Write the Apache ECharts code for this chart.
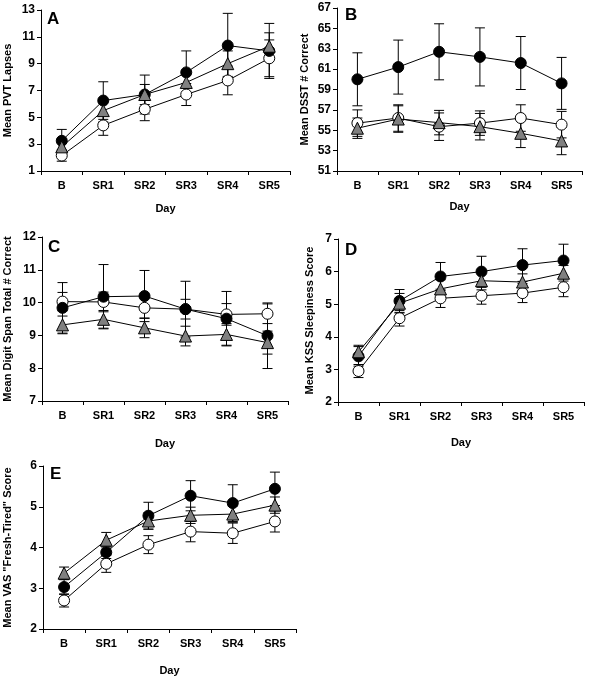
<!DOCTYPE html>
<html>
<head>
<meta charset="utf-8">
<script src="https://cdn.jsdelivr.net/npm/echarts@6/dist/echarts.min.js"></script>
<style>
html,body{margin:0;padding:0;background:#fff;}
#chart{width:594px;height:679px;}
</style>
</head>
<body>
<div id="chart"></div>
<script>
const days = ['B', 'SR1', 'SR2', 'SR3', 'SR4', 'SR5'];

// Panel A: PVT lapses
const pvtBlack = [3.25, 6.25, 6.7, 8.35, 10.35, 9.95];
const pvtBlackErr = [0.85, 1.4, 1.45, 1.6, 2.4, 2.05];
const pvtTri = [2.8, 5.5, 6.7, 7.6, 9.0, 10.3];
const pvtTriErr = [0.6, 0.85, 0.75, 0.85, 0.95, 1.0];
const pvtWhite = [2.15, 4.4, 5.6, 6.7, 7.75, 9.4];
const pvtWhiteErr = [0.42, 0.74, 0.85, 0.82, 1.07, 1.37];
const pvtTicks = [1, 3, 5, 7, 9, 11, 13];

// Panel B: DSST
const dsstBlack = [60.0, 61.2, 62.7, 62.2, 61.6, 59.6];
const dsstBlackErr = [2.6, 2.65, 2.75, 2.85, 2.6, 2.55];
const dsstTri = [55.2, 56.1, 55.75, 55.35, 54.7, 53.95];
const dsstTriErr = [1.0, 1.3, 1.2, 1.3, 1.4, 1.35];
const dsstWhite = [55.7, 56.2, 55.35, 55.7, 56.2, 55.55];
const dsstWhiteErr = [1.3, 1.3, 1.35, 1.2, 1.3, 1.3];
const dsstTicks = [51, 53, 55, 57, 59, 61, 63, 65, 67];

// Panel C: Digit span
const dsBlack = [9.84, 10.18, 10.2, 9.8, 9.51, 8.99];
const dsBlackErr = [0.77, 0.98, 0.78, 0.85, 0.83, 1.0];
const dsTri = [9.32, 9.49, 9.23, 8.98, 9.03, 8.78];
const dsTriErr = [0.27, 0.27, 0.3, 0.3, 0.33, 0.35];
const dsWhite = [10.03, 10.02, 9.84, 9.8, 9.64, 9.66];
const dsWhiteErr = [0.28, 0.3, 0.32, 0.3, 0.33, 0.3];
const dsTicks = [7, 8, 9, 10, 11, 12];

// Panel D: KSS
const kssBlack = [3.4, 5.1, 5.85, 6.0, 6.2, 6.34];
const kssBlackErr = [0.3, 0.35, 0.43, 0.47, 0.5, 0.5];
const kssTri = [3.54, 5.03, 5.47, 5.72, 5.68, 5.95];
const kssTriErr = [0.2, 0.3, 0.28, 0.28, 0.25, 0.24];
const kssWhite = [2.95, 4.57, 5.18, 5.26, 5.34, 5.52];
const kssWhiteErr = [0.2, 0.24, 0.28, 0.26, 0.29, 0.29];
const kssTicks = [2, 3, 4, 5, 6, 7];

// Panel E: VAS
const vasBlack = [3.03, 3.88, 4.78, 5.27, 5.09, 5.44];
const vasBlackErr = [0.18, 0.15, 0.33, 0.37, 0.45, 0.41];
const vasTri = [3.37, 4.18, 4.65, 4.79, 4.82, 5.04];
const vasTriErr = [0.15, 0.19, 0.2, 0.2, 0.2, 0.2];
const vasWhite = [2.7, 3.6, 4.07, 4.39, 4.35, 4.64];
const vasWhiteErr = [0.16, 0.21, 0.22, 0.25, 0.25, 0.26];
const vasTicks = [2, 3, 4, 5, 6];

const FONT = '"Liberation Sans", Arial, sans-serif';

const panels = [
  { letter: 'A', grid: {left: 41, top: 10, width: 249, height: 161}, name: 'Mean PVT Lapses', nameGap: 28,
    ticks: pvtTicks, dayGap: 32, lt: {left: 47, top: 11},
    sets: [[pvtWhite, pvtWhiteErr], [pvtBlack, pvtBlackErr], [pvtTri, pvtTriErr]] },
  { letter: 'B', grid: {left: 337, top: 8, width: 245, height: 163}, name: 'Mean DSST # Correct', nameGap: 27,
    ticks: dsstTicks, dayGap: 30, lt: {left: 345, top: 7},
    sets: [[dsstWhite, dsstWhiteErr], [dsstBlack, dsstBlackErr], [dsstTri, dsstTriErr]] },
  { letter: 'C', grid: {left: 42, top: 237, width: 246, height: 164}, name: 'Mean Digit Span Total # Correct', nameGap: 29,
    ticks: dsTicks, dayGap: 37, lt: {left: 48, top: 239},
    sets: [[dsWhite, dsWhiteErr], [dsBlack, dsBlackErr], [dsTri, dsTriErr]] },
  { letter: 'D', grid: {left: 338, top: 239, width: 246, height: 163}, name: 'Mean KSS Sleepiness Score', nameGap: 23,
    ticks: kssTicks, dayGap: 35, lt: {left: 345, top: 242},
    sets: [[kssWhite, kssWhiteErr], [kssBlack, kssBlackErr], [kssTri, kssTriErr]] },
  { letter: 'E', grid: {left: 43, top: 466, width: 253, height: 163}, name: 'Mean VAS "Fresh-Tired" Score', nameGap: 30,
    ticks: vasTicks, dayGap: 36, lt: {left: 50, top: 466},
    sets: [[vasWhite, vasWhiteErr], [vasBlack, vasBlackErr], [vasTri, vasTriErr]] }
];

const markerStyles = [
  { symbol: 'circle', symbolSize: 11, itemStyle: {color: '#ffffff', borderColor: '#000', borderWidth: 1, opacity: 1} },
  { symbol: 'circle', symbolSize: 11, itemStyle: {color: '#000000', borderColor: '#000', borderWidth: 1, opacity: 1} },
  { symbol: 'triangle', symbolSize: 12, itemStyle: {color: '#808080', borderColor: '#000', borderWidth: 1, opacity: 1} }
];

function errRender(params, api) {
  const x = api.value(0), v = api.value(1), e = api.value(2);
  const hi = api.coord([x, v + e]);
  const lo = api.coord([x, v - e]);
  const w = 5;
  const st = {stroke: '#000', lineWidth: 1};
  return {
    type: 'group',
    children: [
      {type: 'line', shape: {x1: hi[0], y1: hi[1], x2: lo[0], y2: lo[1]}, style: st},
      {type: 'line', shape: {x1: hi[0] - w, y1: hi[1], x2: hi[0] + w, y2: hi[1]}, style: st},
      {type: 'line', shape: {x1: lo[0] - w, y1: lo[1], x2: lo[0] + w, y2: lo[1]}, style: st}
    ]
  };
}

const grid = [], xAxis = [], yAxis = [], series = [], title = [];
panels.forEach((p, i) => {
  grid.push(Object.assign({containLabel: false}, p.grid));
  title.push({text: p.letter, left: p.lt.left, top: p.lt.top, padding: 0,
    textStyle: {fontSize: 17, fontWeight: 'bold', fontFamily: FONT, color: '#000'}});
  xAxis.push({
    type: 'category', gridIndex: i, data: days, boundaryGap: true,
    name: 'Day', nameLocation: 'middle', nameGap: p.dayGap,
    nameTextStyle: {fontSize: 11, fontWeight: 'bold', fontFamily: FONT, color: '#000'},
    axisLine: {show: true, lineStyle: {color: '#000', width: 1}},
    axisTick: {show: true, alignWithLabel: false, length: 4, inside: false, lineStyle: {color: '#000'}},
    axisLabel: {fontSize: 11, fontWeight: 'bold', fontFamily: FONT, color: '#000', margin: 9},
    splitLine: {show: false}
  });
  const tk = p.ticks;
  yAxis.push({
    type: 'value', gridIndex: i, min: tk[0], max: tk[tk.length - 1],
    name: p.name, nameLocation: 'middle', nameGap: p.nameGap, nameRotate: 90,
    nameTextStyle: {fontSize: 11, fontWeight: 'bold', fontFamily: FONT, color: '#000'},
    axisLine: {show: true, lineStyle: {color: '#000', width: 1}},
    axisTick: {show: true, length: 4, inside: false, lineStyle: {color: '#000'}, customValues: tk},
    axisLabel: {fontSize: 12, fontWeight: 'bold', fontFamily: FONT, color: '#000', margin: 6, customValues: tk},
    splitLine: {show: false}
  });
  p.sets.forEach((s, k) => {
    series.push({
      type: 'custom', xAxisIndex: i, yAxisIndex: i, z: 1 + k * 0.01,
      renderItem: errRender, silent: true,
      data: days.map((d, j) => [j, s[0][j], s[1][j]])
    });
  });
  p.sets.forEach((s, k) => {
    series.push(Object.assign({
      type: 'line', xAxisIndex: i, yAxisIndex: i, z: 3 + k,
      data: s[0], lineStyle: {color: '#000', width: 1}, animation: false, silent: true
    }, markerStyles[k]));
  });
});

const chart = echarts.init(document.getElementById('chart'), null, {renderer: 'canvas'});
chart.setOption({
  animation: false,
  backgroundColor: '#fff',
  title, grid, xAxis, yAxis, series
});
</script>
</body>
</html>
